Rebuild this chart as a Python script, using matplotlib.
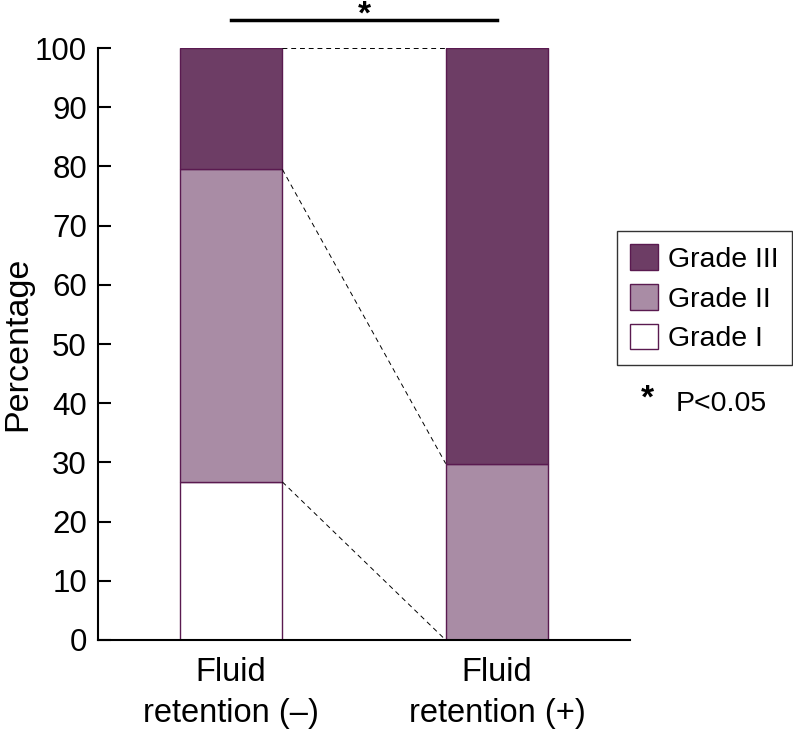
import matplotlib.pyplot as plt
from matplotlib.patches import Patch

plt.rcParams["font.family"] = ["Liberation Sans", "DejaVu Sans"]

groups = ["Fluid\nretention (\u2013)", "Fluid\nretention (+)"]
grade_names = ["Grade I", "Grade II", "Grade III"]
grade_1 = [26.7, 0.0]
grade_2 = [52.8, 29.8]
grade_3 = [20.5, 70.2]
grade_colors = ["#ffffff", "#a98ca5", "#6d3d65"]
edge_color = "#5a1a50"
yticks = list(range(0, 101, 10))

fig = plt.figure(figsize=(7.93, 7.30), dpi=100)
ax = fig.add_axes([0.1236, 0.1233, 0.6709, 0.8109])

x = [0, 1]
width = 0.386
bottom = [0.0, 0.0]
for vals, color in zip([grade_1, grade_2, grade_3], grade_colors):
    ax.bar(x, vals, width, bottom=bottom, color=color, edgecolor=edge_color, linewidth=1)
    bottom = [b + v for b, v in zip(bottom, vals)]

# dashed connectors between the stacked segment boundaries
left_edges = [grade_1[0], grade_1[0] + grade_2[0], 100]
right_edges = [grade_1[1], grade_1[1] + grade_2[1], 100]
for a, b in zip(left_edges, right_edges):
    ax.plot([x[0] + width / 2, x[1] - width / 2], [a, b], color="black",
            linestyle=(0, (5, 4)), linewidth=0.7)

ax.set_xlim(-0.5, 1.5)
ax.set_ylim(0, 100)
ax.set_yticks(yticks)
ax.set_xticks(x)
ax.set_xticklabels(groups, fontsize=23.5, linespacing=1.45)
ax.tick_params(axis="x", length=0, pad=12)
ax.tick_params(axis="y", direction="in", length=9, width=1.5, labelsize=22.5, pad=8)
for s in ["top", "right"]:
    ax.spines[s].set_visible(False)
for s in ["left", "bottom"]:
    ax.spines[s].set_linewidth(1.5)
ax.set_ylabel("Percentage", fontsize=24.5)
ax.yaxis.set_label_coords(-0.122, 0.501)

# significance bar
ax.plot([x[0], x[1]], [104.7, 104.7], color="black", linewidth=2.5, clip_on=False)
fig.text(0.460, 0.968, "*", ha="center", va="baseline", fontsize=24, fontweight="bold")

handles = [Patch(facecolor=c, edgecolor=edge_color, linewidth=1, label=n)
           for c, n in zip(grade_colors[::-1], grade_names[::-1])]
fig.legend(handles=handles, loc="upper left", bbox_to_anchor=(0.778, 0.683),
           fontsize=20.5, frameon=True, fancybox=False, edgecolor="black",
           handlelength=1.0, handleheight=1.0, handletextpad=0.35,
           labelspacing=0.4, borderpad=0.45, borderaxespad=0)
fig.text(0.808, 0.4415, "*", fontsize=24, fontweight="bold", ha="left", va="baseline")
fig.text(0.852, 0.437, "P<0.05", fontsize=20.5, ha="left", va="baseline")

fig.savefig("out.png", dpi=100)
